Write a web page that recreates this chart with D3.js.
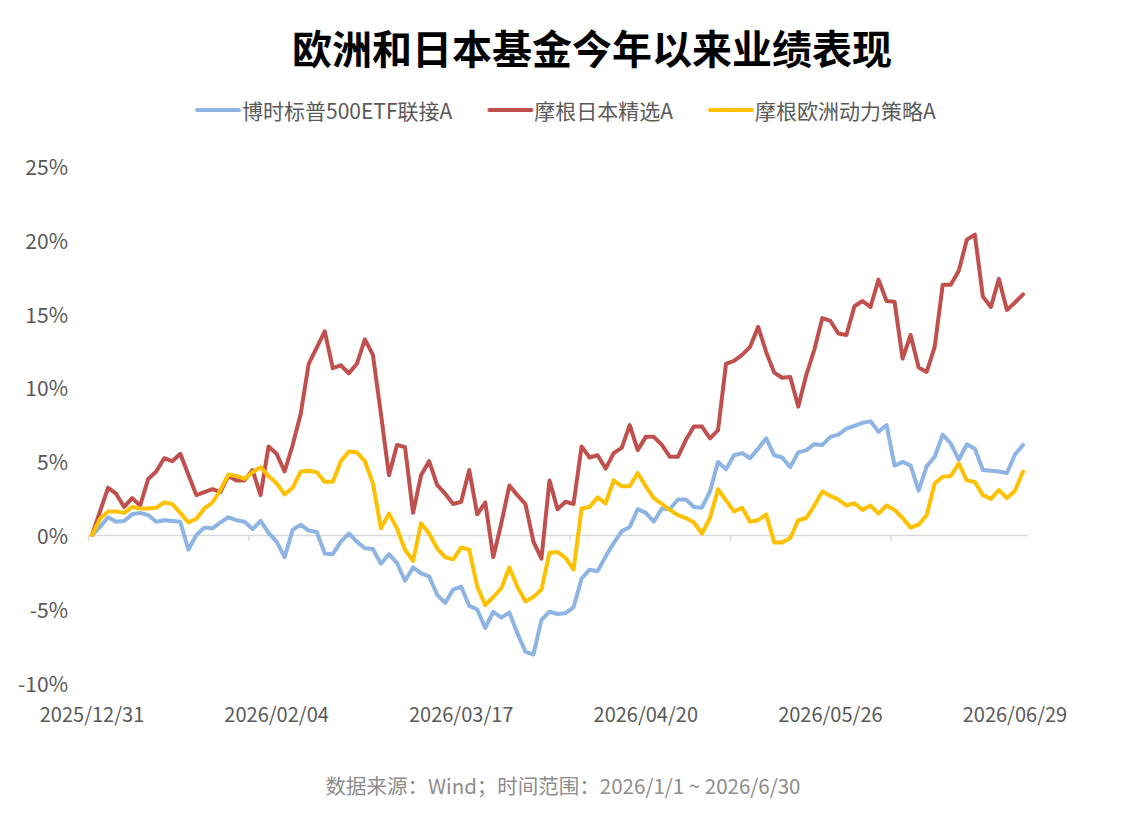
<!DOCTYPE html>
<html>
<head>
<meta charset="utf-8">
<script src="https://cdn.jsdelivr.net/npm/d3@7"></script>
<style>
  body { margin: 0; background: #fff; }
  svg { display: block; font-family: "Noto Sans CJK SC", "Noto Sans", sans-serif; }
</style>
</head>
<body>
<div id="chart"></div>
<script>
// series names and colours
const seriesNames = ["博时标普500ETF联接A", "摩根日本精选A", "摩根欧洲动力策略A"];
const seriesColors = ["#8DB4E2", "#C0504D", "#FFC000"];

// x axis labels, shown every 23 trading days
const tickIndex = [0, 23, 46, 69, 92, 115];
const tickLabels = ["2025/12/31", "2026/02/04", "2026/03/17", "2026/04/20", "2026/05/26", "2026/06/29"];
const yTicks = [-10, -5, 0, 5, 10, 15, 20, 25];

// cumulative return, %, one value per trading day
const spx500 = [
  0, 0.55, 1.2, 0.9, 0.95, 1.4, 1.5, 1.35, 0.9, 1.0,
  0.95, 0.9, -1.0, 0, 0.5, 0.45, 0.85, 1.2, 1.0, 0.9,
  0.4, 0.95, 0.15, -0.45, -1.5, 0.35, 0.7, 0.3, 0.2, -1.25,
  -1.3, -0.45, 0.1, -0.45, -0.9, -0.95, -1.95, -1.3, -1.9, -3.1,
  -2.2, -2.6, -2.8, -4.05, -4.6, -3.7, -3.5, -4.8, -5.05, -6.3,
  -5.2, -5.6, -5.25, -6.65, -7.9, -8.1, -5.75, -5.2, -5.35, -5.3,
  -4.9, -2.95, -2.35, -2.45, -1.45, -0.55, 0.25, 0.55, 1.75, 1.5,
  0.9, 1.8, 1.75, 2.4, 2.4, 1.9, 1.85, 2.95, 4.95, 4.45,
  5.4, 5.55, 5.2, 5.85, 6.55, 5.4, 5.25, 4.6, 5.6, 5.75,
  6.15, 6.1, 6.65, 6.8, 7.2, 7.4, 7.6, 7.7, 7.0, 7.45,
  4.7, 4.95, 4.7, 3.0, 4.65, 5.3, 6.8, 6.2, 5.1, 6.15,
  5.85, 4.4, 4.35, 4.3, 4.2, 5.45, 6.1
];
const japan = [
  0, 1.6, 3.2, 2.8, 1.9, 2.5, 2.0, 3.8, 4.3, 5.2,
  5.0, 5.5, 4.1, 2.7, 2.9, 3.1, 2.9, 4.0, 3.7, 3.7,
  4.4, 2.7, 6.0, 5.5, 4.3, 6.1, 8.2, 11.6, 12.7, 13.8,
  11.3, 11.5, 10.95, 11.6, 13.25, 12.2, 8.2, 4.05, 6.1, 5.95,
  1.5, 4.05, 5.0, 3.4, 2.8, 2.1, 2.25, 4.4, 1.4, 2.2,
  -1.5, 0.8, 3.35, 2.7, 2.1, -0.45, -1.6, 3.7, 1.75, 2.25,
  2.1, 6.0, 5.25, 5.4, 4.5, 5.55, 5.9, 7.45, 5.75, 6.65,
  6.65, 6.1, 5.3, 5.3, 6.45, 7.35, 7.35, 6.55, 7.1, 11.6,
  11.8, 12.2, 12.75, 14.1, 12.4, 11.0, 10.65, 10.7, 8.7, 10.85,
  12.55, 14.7, 14.5, 13.65, 13.55, 15.5, 15.85, 15.45, 17.3, 15.85,
  15.8, 11.95, 13.55, 11.35, 11.05, 12.75, 16.95, 16.95, 17.9, 20.0,
  20.35, 16.15, 15.45, 17.35, 15.25, 15.75, 16.3
];
const europe = [
  0, 1.1, 1.6, 1.6, 1.5, 1.9, 1.8, 1.8, 1.85, 2.2,
  2.1, 1.5, 0.85, 1.1, 1.8, 2.2, 3.05, 4.1, 4.0, 3.8,
  4.25, 4.6, 4.0, 3.5, 2.75, 3.2, 4.3, 4.35, 4.25, 3.6,
  3.6, 5.0, 5.65, 5.6, 5.0, 3.5, 0.45, 1.45, 0.45, -1.0,
  -1.75, 0.8, 0.1, -0.9, -1.5, -1.65, -0.85, -1.0, -3.5, -4.75,
  -4.2, -3.6, -2.2, -3.5, -4.5, -4.2, -3.7, -1.2, -1.15, -1.55,
  -2.35, 1.8, 1.9, 2.55, 2.15, 3.7, 3.3, 3.3, 4.2, 3.3,
  2.5, 2.1, 1.7, 1.35, 1.15, 0.85, 0.1, 1.15, 3.1, 2.35,
  1.6, 1.85, 0.9, 1.0, 1.4, -0.5, -0.5, -0.2, 1.0, 1.15,
  2.0, 2.95, 2.65, 2.4, 2.0, 2.15, 1.7, 2.0, 1.45, 2.0,
  1.7, 1.15, 0.5, 0.7, 1.35, 3.5, 3.95, 4.0, 4.85, 3.7,
  3.6, 2.7, 2.45, 3.05, 2.5, 3.0, 4.3
];

const W = 1124, H = 818;
const svg = d3.select("#chart").append("svg").attr("width", W).attr("height", H);

const allSeries = [spx500, japan, europe];
const idx = d3.range(spx500.length);

const x = d3.scalePoint().domain(idx).range([88, 1027]).padding(0.5);
const y = d3.scaleLinear().domain([-10, 25]).range([682.6, 166]);
const step = x.step();

// title
svg.append("text")
  .attr("x", 592).attr("y", 47)
  .attr("text-anchor", "middle").attr("dominant-baseline", "central")
  .attr("font-size", 40).attr("font-weight", "bold").attr("fill", "#000")
  .text("欧洲和日本基金今年以来业绩表现");

// legend
const legend = svg.append("g").attr("transform", "translate(197, 110)");
let lx = 0;
seriesNames.forEach((name, i) => {
  legend.append("line")
    .attr("x1", lx).attr("x2", lx + 42).attr("y1", 0).attr("y2", 0)
    .attr("stroke", seriesColors[i]).attr("stroke-width", 4).attr("stroke-linecap", "round");
  const t = legend.append("text")
    .attr("x", lx + 45).attr("y", 0)
    .attr("dominant-baseline", "central")
    .attr("font-size", 21).attr("fill", "#595959")
    .text(name);
  lx += 45 + t.node().getComputedTextLength() + 37;
});

// y axis labels
svg.append("g").selectAll("text")
  .data(yTicks).enter().append("text")
  .attr("x", 68).attr("y", d => y(d))
  .attr("text-anchor", "end").attr("dominant-baseline", "central")
  .attr("font-size", 21).attr("fill", "#595959")
  .text(d => d + "%");

// zero line with tick marks every 20 days
const xAxis = d3.axisBottom(x)
  .tickValues(idx.filter(i => i % 20 === 0))
  .tickSize(6).tickSizeOuter(0).tickFormat("");
const axisG = svg.append("g").attr("transform", `translate(0,${y(0)})`).call(xAxis);
axisG.select(".domain").attr("stroke", "#d9d9d9").attr("stroke-width", 1.5);
axisG.selectAll(".tick line")
  .attr("stroke", "#d9d9d9").attr("stroke-width", 1.5)
  .attr("transform", `translate(${-step / 2},0)`);

// x labels at the bottom
svg.append("g").selectAll("text")
  .data(tickIndex).enter().append("text")
  .attr("x", d => x(d)).attr("y", 713)
  .attr("text-anchor", "middle").attr("dominant-baseline", "central")
  .attr("font-size", 20).attr("fill", "#595959")
  .text((d, i) => tickLabels[i]);

// lines
const line = d3.line().x((d, i) => x(i)).y(d => y(d));
allSeries.forEach((s, i) => {
  svg.append("path")
    .datum(s)
    .attr("d", line)
    .attr("fill", "none")
    .attr("stroke", seriesColors[i])
    .attr("stroke-width", 4)
    .attr("stroke-linejoin", "round")
    .attr("stroke-linecap", "round");
});

// footer
svg.append("text")
  .attr("x", 563).attr("y", 785)
  .attr("text-anchor", "middle").attr("dominant-baseline", "central")
  .attr("font-size", 20.5).attr("fill", "#8c8c8c")
  .text("数据来源：Wind；时间范围：2026/1/1 ~ 2026/6/30");
</script>
</body>
</html>
